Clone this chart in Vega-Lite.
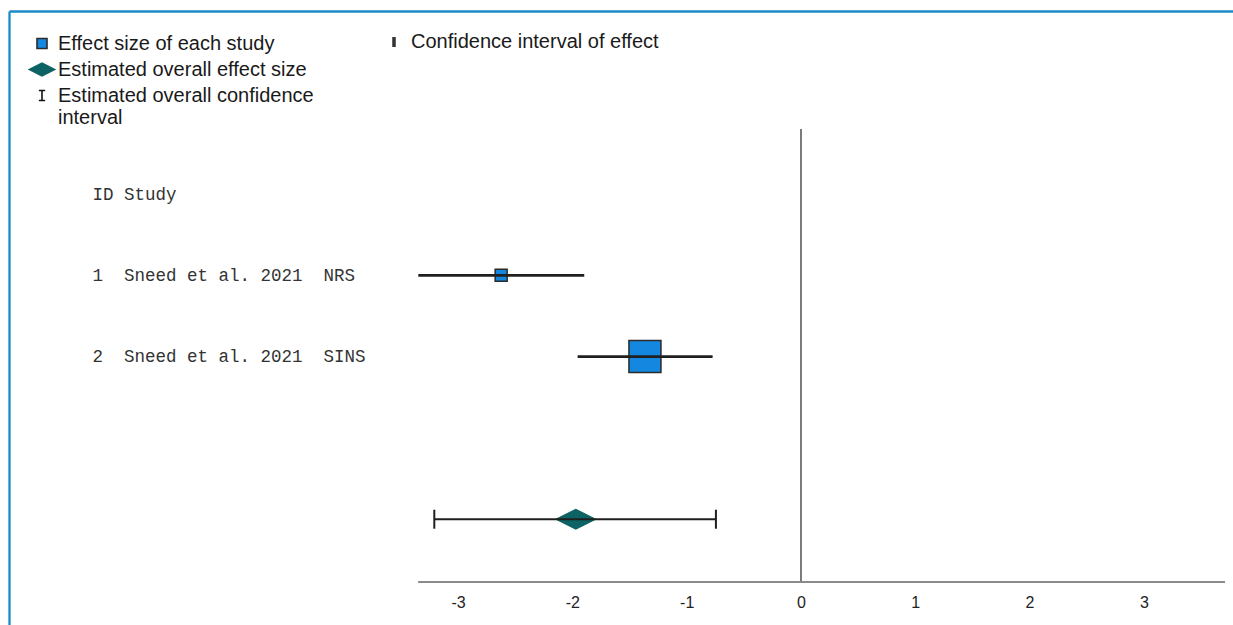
{
  "$schema": "https://vega.github.io/schema/vega-lite/v6.json",
  "width": 1224,
  "height": 614,
  "autosize": {"type": "none"},
  "padding": {"left": 9, "top": 11, "right": 0, "bottom": 0},
  "background": "white",
  "config": {
    "view": {"stroke": null},
    "axis": {"grid": false},
    "legend": {"labelFont": "Liberation Sans", "labelFontSize": 20, "labelColor": "#1a1a1a", "labelLimit": 500, "padding": 0}
  },
  "data": {
    "values": [
      {"row": 1, "est": -2.623, "lo": -3.348, "hi": -1.896, "weight": 12.3, "kind": "Effect size of each study", "ci": "Confidence interval of effect"},
      {"row": 2, "est": -1.365, "lo": -1.954, "hi": -0.773, "weight": 87.7, "kind": "Effect size of each study", "ci": "Confidence interval of effect"},
      {"row": 4, "est": -1.970, "lo": -3.208, "hi": -0.744, "weight": 100, "kind": "Estimated overall effect size", "ci": "Estimated overall confidence interval"}
    ]
  },
  "resolve": {"axis": {"x": "independent"}},
  "layer": [
    {
      "mark": {"type": "rule", "color": "#7a7a7a", "strokeWidth": 1.5},
      "encoding": {
        "x": {"datum": 0, "type": "quantitative", "scale": {"domain": [-6.929, 3.78], "nice": false, "zero": false},
              "axis": {"orient": "top", "domain": true, "domainColor": "#1b8ac6", "domainWidth": 2.3, "labels": false, "ticks": false, "grid": false, "title": null}},
        "y": {"datum": -0.8, "type": "quantitative", "scale": {"domain": [-2.251, 5.301], "reverse": true, "nice": false, "zero": false},
              "axis": {"orient": "left", "domain": true, "domainColor": "#1b8ac6", "domainWidth": 2.3, "ticks": false, "tickSize": 0, "grid": false, "title": null,
                       "values": [0, 1, 2],
                       "labelExpr": "datum.value == 0 ? 'ID Study' : (datum.value == 1 ? '1\u00a0\u00a0Sneed et al. 2021\u00a0\u00a0NRS' : '2\u00a0\u00a0Sneed et al. 2021\u00a0\u00a0SINS')",
                       "labelAlign": "left", "labelBaseline": "middle", "labelPadding": -83, "labelFont": "Liberation Mono", "labelFontSize": 17.5, "labelColor": "#333333", "labelLimit": 0}},
        "y2": {"datum": 4.772}
      }
    },
    {
      "mark": {"type": "rule", "color": "#8a8a8a", "strokeWidth": 1.5},
      "encoding": {
        "x": {"datum": -3.348, "type": "quantitative", "axis": null},
        "x2": {"datum": 3.71},
        "y": {"datum": 4.772, "type": "quantitative"}
      }
    },
    {
      "transform": [{"filter": "datum.row < 4"}],
      "mark": {"type": "point", "filled": true, "opacity": 1, "strokeWidth": 1.5},
      "encoding": {
        "x": {"field": "est", "type": "quantitative",
              "axis": {"orient": "bottom", "offset": -43, "domain": false, "ticks": false, "grid": false, "title": null,
                       "values": [-3, -2, -1, 0, 1, 2, 3], "labelExpr": "'' + datum.value",
                       "labelFont": "Liberation Sans", "labelFontSize": 16, "labelColor": "#222222", "labelPadding": 12}},
        "y": {"field": "row", "type": "quantitative"},
        "fill": {"field": "kind", "type": "nominal", "title": null,
                 "scale": {"domain": ["Effect size of each study", "Estimated overall effect size", "Estimated overall confidence interval"], "range": ["#1488e0", "#0d6263", "#000000"]},
                 "legend": {"orient": "none", "legendX": 19.5, "legendY": 19, "direction": "vertical", "symbolSize": 625, "symbolStrokeWidth": 1.6, "rowPadding": 2, "labelOffset": 2.5,
                            "labelExpr": "datum.label == 'Estimated overall confidence interval' ? ['Estimated overall confidence', 'interval'] : datum.label"}},
        "shape": {"field": "kind", "type": "nominal", "title": null,
                  "scale": {"domain": ["Effect size of each study", "Estimated overall effect size", "Estimated overall confidence interval"],
                            "range": ["M-0.4,-0.4L0.4,-0.4L0.4,0.4L-0.4,0.4Z", "M-1,0L0,-0.5L1,0L0,0.5Z", "M-0.25,-0.4L0.25,-0.4M0,-0.4L0,0.4M-0.25,0.4L0.25,0.4"]}},
        "stroke": {"field": "kind", "type": "nominal", "title": null,
                   "scale": {"domain": ["Effect size of each study", "Estimated overall effect size", "Estimated overall confidence interval"], "range": ["#2a2a2a", "#0d6263", "#111111"]}},
        "size": {"field": "weight", "type": "quantitative", "scale": {"domain": [0, 100], "range": [0, 7300]}, "legend": null}
      }
    },
    {
      "transform": [{"filter": "datum.row == 4"}],
      "mark": {"type": "point", "filled": true, "opacity": 1, "strokeWidth": 1, "size": 1600},
      "encoding": {
        "x": {"field": "est", "type": "quantitative", "axis": null},
        "y": {"field": "row", "type": "quantitative"},
        "fill": {"field": "kind", "type": "nominal", "title": null},
        "shape": {"field": "kind", "type": "nominal", "title": null},
        "stroke": {"field": "kind", "type": "nominal", "title": null}
      }
    },
    {
      "transform": [{"filter": "datum.row < 4"}],
      "mark": {"type": "rule", "color": "#1f1f1f", "strokeWidth": 2.8},
      "encoding": {
        "x": {"field": "lo", "type": "quantitative", "axis": null},
        "x2": {"field": "hi"},
        "y": {"field": "row", "type": "quantitative"},
        "strokeDash": {"field": "ci", "type": "nominal", "title": null,
                       "scale": {"domain": ["Confidence interval of effect"], "range": [[1, 0]]},
                       "legend": {"orient": "none", "legendX": 375, "legendY": 21, "symbolType": "M0,-1L0,1", "symbolSize": 100, "symbolStrokeColor": "#333333", "symbolStrokeWidth": 3.5, "labelOffset": 7}}
      }
    },
    {
      "transform": [{"filter": "datum.row == 4"}],
      "mark": {"type": "rule", "color": "#1f1f1f", "strokeWidth": 2},
      "encoding": {
        "x": {"field": "lo", "type": "quantitative", "axis": null},
        "x2": {"field": "hi"},
        "y": {"field": "row", "type": "quantitative"}
      }
    },
    {
      "transform": [{"filter": "datum.row == 4"}],
      "mark": {"type": "tick", "orient": "vertical", "size": 19, "thickness": 2, "color": "#1f1f1f", "opacity": 1},
      "encoding": {
        "x": {"field": "lo", "type": "quantitative", "axis": null},
        "y": {"field": "row", "type": "quantitative"}
      }
    },
    {
      "transform": [{"filter": "datum.row == 4"}],
      "mark": {"type": "tick", "orient": "vertical", "size": 19, "thickness": 2, "color": "#1f1f1f", "opacity": 1},
      "encoding": {
        "x": {"field": "hi", "type": "quantitative", "axis": null},
        "y": {"field": "row", "type": "quantitative"}
      }
    }
  ]
}
